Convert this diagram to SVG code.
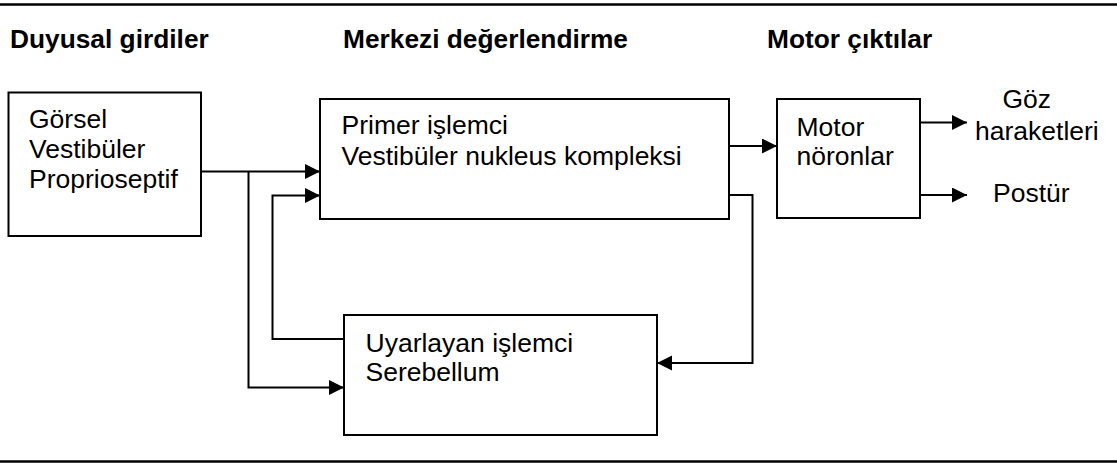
<svg xmlns="http://www.w3.org/2000/svg" width="1117" height="463" viewBox="0 0 1117 463">
<style>
.box{fill:#fff;stroke:#000;stroke-width:2}
.t{font-family:"Liberation Sans",Arial,sans-serif;font-size:26.5px;fill:#000}
.h{font-family:"Liberation Sans",Arial,sans-serif;font-size:26.3px;font-weight:bold;fill:#000}
.c{fill:none;stroke:#000;stroke-width:2}
.rule{stroke:#000;stroke-width:2.5}
</style>
<defs>
<marker id="arr" markerUnits="userSpaceOnUse" markerWidth="16" markerHeight="16" refX="15" refY="7.5" orient="auto">
<path d="M0,0 L15,7.5 L0,15 Z" fill="#000"/>
</marker>
</defs>
<line class="rule" x1="0" y1="4.5" x2="1117" y2="4.5"/>
<line class="rule" x1="0" y1="461.5" x2="1117" y2="461.5"/>
<g id="headings">
<text class="h" x="10" y="48">Duyusal girdiler</text>
<text class="h" x="343" y="48">Merkezi değerlendirme</text>
<text class="h" x="767" y="48">Motor çıktılar</text>
</g>
<g id="connectors">
<path class="c" d="M201,171.5 H320" marker-end="url(#arr)"/>
<path class="c" d="M248.5,171.5 V387.5 H344" marker-end="url(#arr)"/>
<path class="c" d="M344,339 H272.5 V195.5 H320" marker-end="url(#arr)"/>
<path class="c" d="M729,146 H777" marker-end="url(#arr)"/>
<path class="c" d="M729,195 H752.5 V363 H657" marker-end="url(#arr)"/>
<path class="c" d="M920,122.5 H967" marker-end="url(#arr)"/>
<path class="c" d="M920,195 H967" marker-end="url(#arr)"/>
</g>
<g id="sensory">
<rect class="box" x="8.5" y="92.5" width="192.5" height="143.5"/>
<text class="t" x="29" y="128">Görsel</text>
<text class="t" x="29" y="158">Vestibüler</text>
<text class="t" x="29" y="188">Proprioseptif</text>
</g>
<g id="primary">
<rect class="box" x="320" y="99" width="409" height="120"/>
<text class="t" x="341.5" y="134">Primer işlemci</text>
<text class="t" x="341.5" y="165">Vestibüler nukleus kompleksi</text>
</g>
<g id="motor">
<rect class="box" x="777" y="99" width="143" height="119"/>
<text class="t" x="796.5" y="136">Motor</text>
<text class="t" x="796.5" y="165">nöronlar</text>
</g>
<g id="adaptive">
<rect class="box" x="344" y="315" width="313" height="120"/>
<text class="t" x="365.5" y="352">Uyarlayan işlemci</text>
<text class="t" x="365.5" y="381">Serebellum</text>
</g>
<g id="eye">
<text class="t" x="1002.5" y="108">Göz</text>
<text class="t" x="975" y="140">haraketleri</text>
</g>
<g id="posture">
<text class="t" x="993" y="202">Postür</text>
</g>
</svg>
